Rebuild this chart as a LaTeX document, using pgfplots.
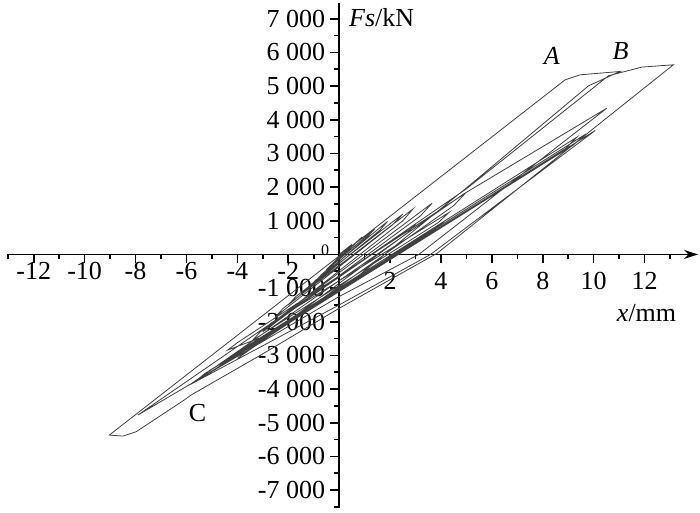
\documentclass[border=0pt]{standalone}
\usepackage{fontspec}
\setmainfont{Liberation Serif}
\usepackage{pgfplots}
\pgfplotsset{compat=1.18}
\usetikzlibrary{arrows.meta}
\begin{document}
\begin{tikzpicture}
\begin{axis}[
    scale only axis,
    width=344.9pt, height=252.5pt,
    xmin=-13, xmax=14.1,
    ymin=-7530, ymax=7470,
    axis lines=middle,
    axis line style={line width=0.9pt, -},
    x axis line style={-{Stealth[length=7pt,width=4.5pt]}},
    tick align=outside,
    major tick length=4.5pt,
    minor tick length=2.5pt,
    tick style={line width=0.8pt, black},
    xtick={2,4,6,8,10,12},
    extra x ticks={-12,-10,-8,-6,-4,-2},
    extra x tick style={tick label style={yshift=5pt}},
    minor xtick={-13,-11,...,13},
    ytick={-7000,-6000,-5000,-4000,-3000,-2000,-1000,1000,2000,3000,4000,5000,6000,7000},
    minor ytick={-7500,-6500,...,7500},
    extra y ticks={0},
    extra y tick style={tick label style={font=\fontsize{8}{9}\selectfont, yshift=2pt, xshift=2pt}},
    tick label style={font=\fontsize{13}{15}\selectfont},
    xticklabel style={yshift=-1pt},
    yticklabel style={xshift=1pt},
    /pgf/number format/.cd, 1000 sep={\ }, assume math mode=true,
]
% load path of the hysteresis, cycles of growing amplitude
\addplot[black!75, line width=0.4pt, mark=none] coordinates {
    (0,0) (0.5,300) (0.3,150) (-0.5,-450) (-0.3,-300) (0.9,520) (0.6,300)
    (-1.0,-850) (-0.7,-600) (1.4,760) (1.1,520) (-1.5,-1200) (-1.2,-950)
    (1.9,980) (1.6,720) (-2.0,-1500) (-1.7,-1250) (2.5,1200) (2.1,880)
    (-2.5,-1850) (-2.2,-1600) (2.9,1350) (2.5,1000) (-2.8,-2150) (-2.4,-1900)
    (3.65,1522) (3.2,1150) (-3.0,-2300) (-2.7,-2050) (4.31,1243) (3.9,950)
    (-3.4,-2550) (-3.1,-2300) (3.0,900) (2.7,650) (-3.3,-2700) (-3.0,-2450)
    (-4.38,-2840) (-4.0,-2620) (4.96,1819) (4.5,1450) (-3.99,-3086) (-3.6,-2850)
    (4.11,975) (3.6,650) (-4.7,-3300) (-4.3,-3050)
    (9.34,3484) (8.9,3150) (-5.5,-3700) (-5.1,-3450) (9.7,3580) (9.2,3250)
    (-5.7,-3800) (-5.3,-3550) (10.06,3681) (3.59,0) (0,-1500) (-5.89,-3880)
    (4.9,1800) (10.52,4346) (3.13,0) (0,-1250) (-7.91,-4772)
    (5.0,1950) (10.58,5307) (11.89,5565) (13.13,5634) (3.85,36) (0,-1600)
    (-3.08,-2988) (-5.82,-4177) (-6.09,-4326) (-7.98,-5268) (-8.5,-5396) (-9.03,-5366)
    (8.88,5188) (9.47,5336) (11.04,5436) (9.8,5010) (5.2,2100) (0,-1100) (-5.5,-3700)
};
\node[anchor=base west, inner sep=0pt, font=\fontsize{13}{15}\selectfont] at (axis cs:0.38,6772) {\textit{Fs}/kN};
\node[anchor=base west, inner sep=0pt, font=\fontsize{13}{15}\selectfont] at (axis cs:10.9,-2000) {\textit{x}/mm};
\node[anchor=base, inner sep=0pt, font=\fontsize{13}{15}\selectfont] at (axis cs:8.36,5633) {\textit{A}};
\node[anchor=base, inner sep=0pt, font=\fontsize{13}{15}\selectfont] at (axis cs:11.06,5783) {\textit{B}};
\node[anchor=base, inner sep=0pt, font=\fontsize{13}{15}\selectfont] at (axis cs:-5.56,-4971) {C};
\end{axis}
\pgfresetboundingbox
\path[use as bounding box] ([xshift=-4.15pt,yshift=-2.5pt]current axis.south west) rectangle ([xshift=1pt,yshift=1.5pt]current axis.north east);
\end{tikzpicture}
\end{document}
